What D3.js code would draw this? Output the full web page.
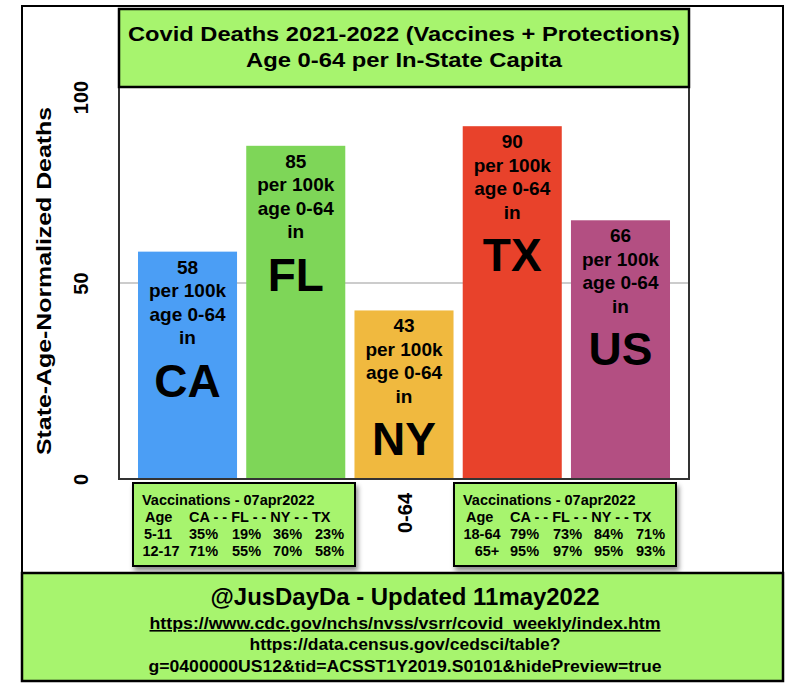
<!DOCTYPE html>
<html>
<head>
<meta charset="utf-8">
<script src="https://cdn.jsdelivr.net/npm/d3@7"></script>
<style>
  body { margin: 0; background: #fff; }
  svg { display: block; }
  text { font-family: "Liberation Sans", Arial, sans-serif; font-weight: bold; fill: #000; }
  .narrow { font-family: "Liberation Sans Narrow", "Liberation Sans", Arial, sans-serif; }
</style>
</head>
<body>
<div id="chart"></div>
<script>
// chart data
var states = ["CA", "FL", "NY", "TX", "US"];
var deaths = [58, 85, 43, 90, 66];
var barColors = ["#4b9ef5", "#7ed658", "#f0b93f", "#e8422b", "#b34f82"];
var yTicks = [0, 50, 100];
var xCategory = "0-64";

// vaccination tables
var vaxStates = ["CA", "FL", "NY", "TX"];
var vaxAgesLeft = ["5-11", "12-17"];
var vaxLeft = [[35, 19, 36, 23], [71, 55, 70, 58]];
var vaxAgesRight = ["18-64", "65+"];
var vaxRight = [[79, 73, 84, 71], [95, 97, 95, 93]];

var titleLines = ["Covid Deaths 2021-2022 (Vaccines + Protections)", "Age 0-64 per In-State Capita"];
var footerLines = ["@JusDayDa - Updated 11may2022",
    "https://www.cdc.gov/nchs/nvss/vsrr/covid_weekly/index.htm",
    "https://data.census.gov/cedsci/table?",
    "g=0400000US12&tid=ACSST1Y2019.S0101&hidePreview=true"];

var w = 807, h = 698;
var green = "#a7f46e";

var svg = d3.select("#chart").append("svg")
    .attr("width", w)
    .attr("height", h);

var defs = svg.append("defs");
defs.append("filter").attr("id", "shadow")
    .attr("x", "-10%").attr("y", "-10%").attr("width", "130%").attr("height", "140%")
    .append("feDropShadow")
    .attr("dx", 2).attr("dy", 4).attr("stdDeviation", 2.5)
    .attr("flood-color", "#000").attr("flood-opacity", 0.45);

// outer frame
svg.append("rect")
    .attr("x", 22).attr("y", 6).attr("width", 761).attr("height", 675)
    .attr("fill", "#fff").attr("stroke", "#000").attr("stroke-width", 2);

var plot = {left: 119, right: 689, top: 87, bottom: 479};

var x = d3.scaleBand()
    .domain(states)
    .range([plot.left, plot.right])
    .paddingInner(0.085)
    .paddingOuter(0.1755);

var y = d3.scaleLinear()
    .domain([0, 100])
    .range([plot.bottom, plot.top]);

// gridline
svg.append("g")
    .selectAll("line")
    .data(yTicks.filter(d => d > 0 && d < 100))
    .enter().append("line")
    .attr("x1", plot.left).attr("x2", plot.right)
    .attr("y1", d => y(d)).attr("y2", d => y(d))
    .attr("stroke", "#bbb").attr("stroke-width", 1.5);

// bars
var bars = svg.append("g").selectAll("g")
    .data(states)
    .enter().append("g");

bars.append("rect")
    .attr("x", d => x(d))
    .attr("y", (d, i) => y(deaths[i]))
    .attr("width", x.bandwidth())
    .attr("height", (d, i) => y(0) - y(deaths[i]))
    .attr("fill", (d, i) => barColors[i]);

// labels inside bars
bars.each(function(d, i) {
    var g = d3.select(this);
    var cx = x(d) + x.bandwidth() / 2;
    var top = y(deaths[i]);
    var small = [String(deaths[i]), "per 100k", "age 0-64", "in"];
    small.forEach(function(s, j) {
        g.append("text")
            .attr("x", cx)
            .attr("y", top + 22 + j * 23.5)
            .attr("text-anchor", "middle")
            .attr("font-size", 19)
            .text(s);
    });
    g.append("text")
        .attr("x", cx)
        .attr("y", top + 145)
        .attr("text-anchor", "middle")
        .attr("font-size", 46)
        .text(d);
});

// plot frame
svg.append("rect")
    .attr("x", plot.left).attr("y", plot.top)
    .attr("width", plot.right - plot.left).attr("height", plot.bottom - plot.top)
    .attr("fill", "none").attr("stroke", "#333").attr("stroke-width", 2);

// y axis
var yAxis = svg.append("g")
    .attr("transform", "translate(" + plot.left + ",0)")
    .call(d3.axisLeft(y).tickValues(yTicks).tickSize(0).tickPadding(0));
yAxis.select(".domain").remove();
yAxis.selectAll(".tick text")
    .attr("transform", d => "translate(-38," + (d === 100 ? 10 : 0) + ") rotate(-90)")
    .attr("x", 0).attr("dy", "0.35em")
    .attr("text-anchor", "middle")
    .attr("font-size", 20)
    .attr("font-family", null);

svg.append("text")
    .attr("transform", "translate(51,281) rotate(-90)")
    .attr("text-anchor", "middle")
    .attr("font-size", 21)
    .attr("textLength", 348).attr("lengthAdjust", "spacingAndGlyphs")
    .text("State-Age-Normalized Deaths");

// x category label
svg.append("text")
    .attr("transform", "translate(412,513) rotate(-90)")
    .attr("text-anchor", "middle")
    .attr("font-size", 20)
    .text(xCategory);

// title box
svg.append("rect")
    .attr("x", plot.left).attr("y", 9).attr("width", plot.right - plot.left).attr("height", 78)
    .attr("fill", green).attr("stroke", "#000").attr("stroke-width", 2.5);
var titleWidths = [552, 316];
titleLines.forEach(function(s, i) {
    svg.append("text").attr("class", "narrow")
        .attr("x", 404).attr("y", 41 + i * 26)
        .attr("text-anchor", "middle")
        .attr("font-size", 21)
        .attr("textLength", titleWidths[i]).attr("lengthAdjust", "spacingAndGlyphs")
        .text(s);
});

// vaccination tables
function vaxTable(x0, ages, rows, ageX) {
    var g = svg.append("g");
    g.append("rect")
        .attr("x", x0).attr("y", 483).attr("width", 222).attr("height", 83)
        .attr("fill", green).attr("stroke", "#000").attr("stroke-width", 2)
        .attr("filter", "url(#shadow)");
    var tx = x0 + 9;
    g.append("text").attr("x", tx).attr("y", 505).attr("font-size", 14.5)
        .text("Vaccinations - 07apr2022");
    g.append("text").attr("x", tx + 3).attr("y", 522).attr("font-size", 14.5)
        .text("Age");
    g.append("text").attr("x", x0 + 56).attr("y", 522).attr("font-size", 14.5)
        .text(vaxStates.join(" - - "));
    var colX = [56, 99, 140, 182];
    rows.forEach(function(r, i) {
        g.append("text").attr("x", ageX[i]).attr("y", 539 + i * 17).attr("font-size", 14.5)
            .attr("text-anchor", "middle")
            .text(ages[i]);
        r.forEach(function(v, j) {
            g.append("text").attr("x", x0 + colX[j]).attr("y", 539 + i * 17).attr("font-size", 14.5)
                .text(v + "%");
        });
    });
}
vaxTable(133, vaxAgesLeft, vaxLeft, [158, 161]);
vaxTable(454, vaxAgesRight, vaxRight, [482, 487]);

// footer box
svg.append("rect")
    .attr("x", 22).attr("y", 573).attr("width", 761).attr("height", 108)
    .attr("fill", green).attr("stroke", "#000").attr("stroke-width", 2.5);
var footerSizes = [24, 16, 16, 16];
var footerWidths = [389, 511, 311, 513];
var footerY = [605, 629, 650, 672];
footerLines.forEach(function(s, i) {
    var t = svg.append("text").attr("class", "narrow")
        .attr("x", 405).attr("y", footerY[i])
        .attr("text-anchor", "middle")
        .attr("font-size", footerSizes[i])
        .attr("textLength", footerWidths[i]).attr("lengthAdjust", "spacingAndGlyphs")
        .text(s);
    if (i === 1) t.attr("text-decoration", "underline");
});
</script>
</body>
</html>
